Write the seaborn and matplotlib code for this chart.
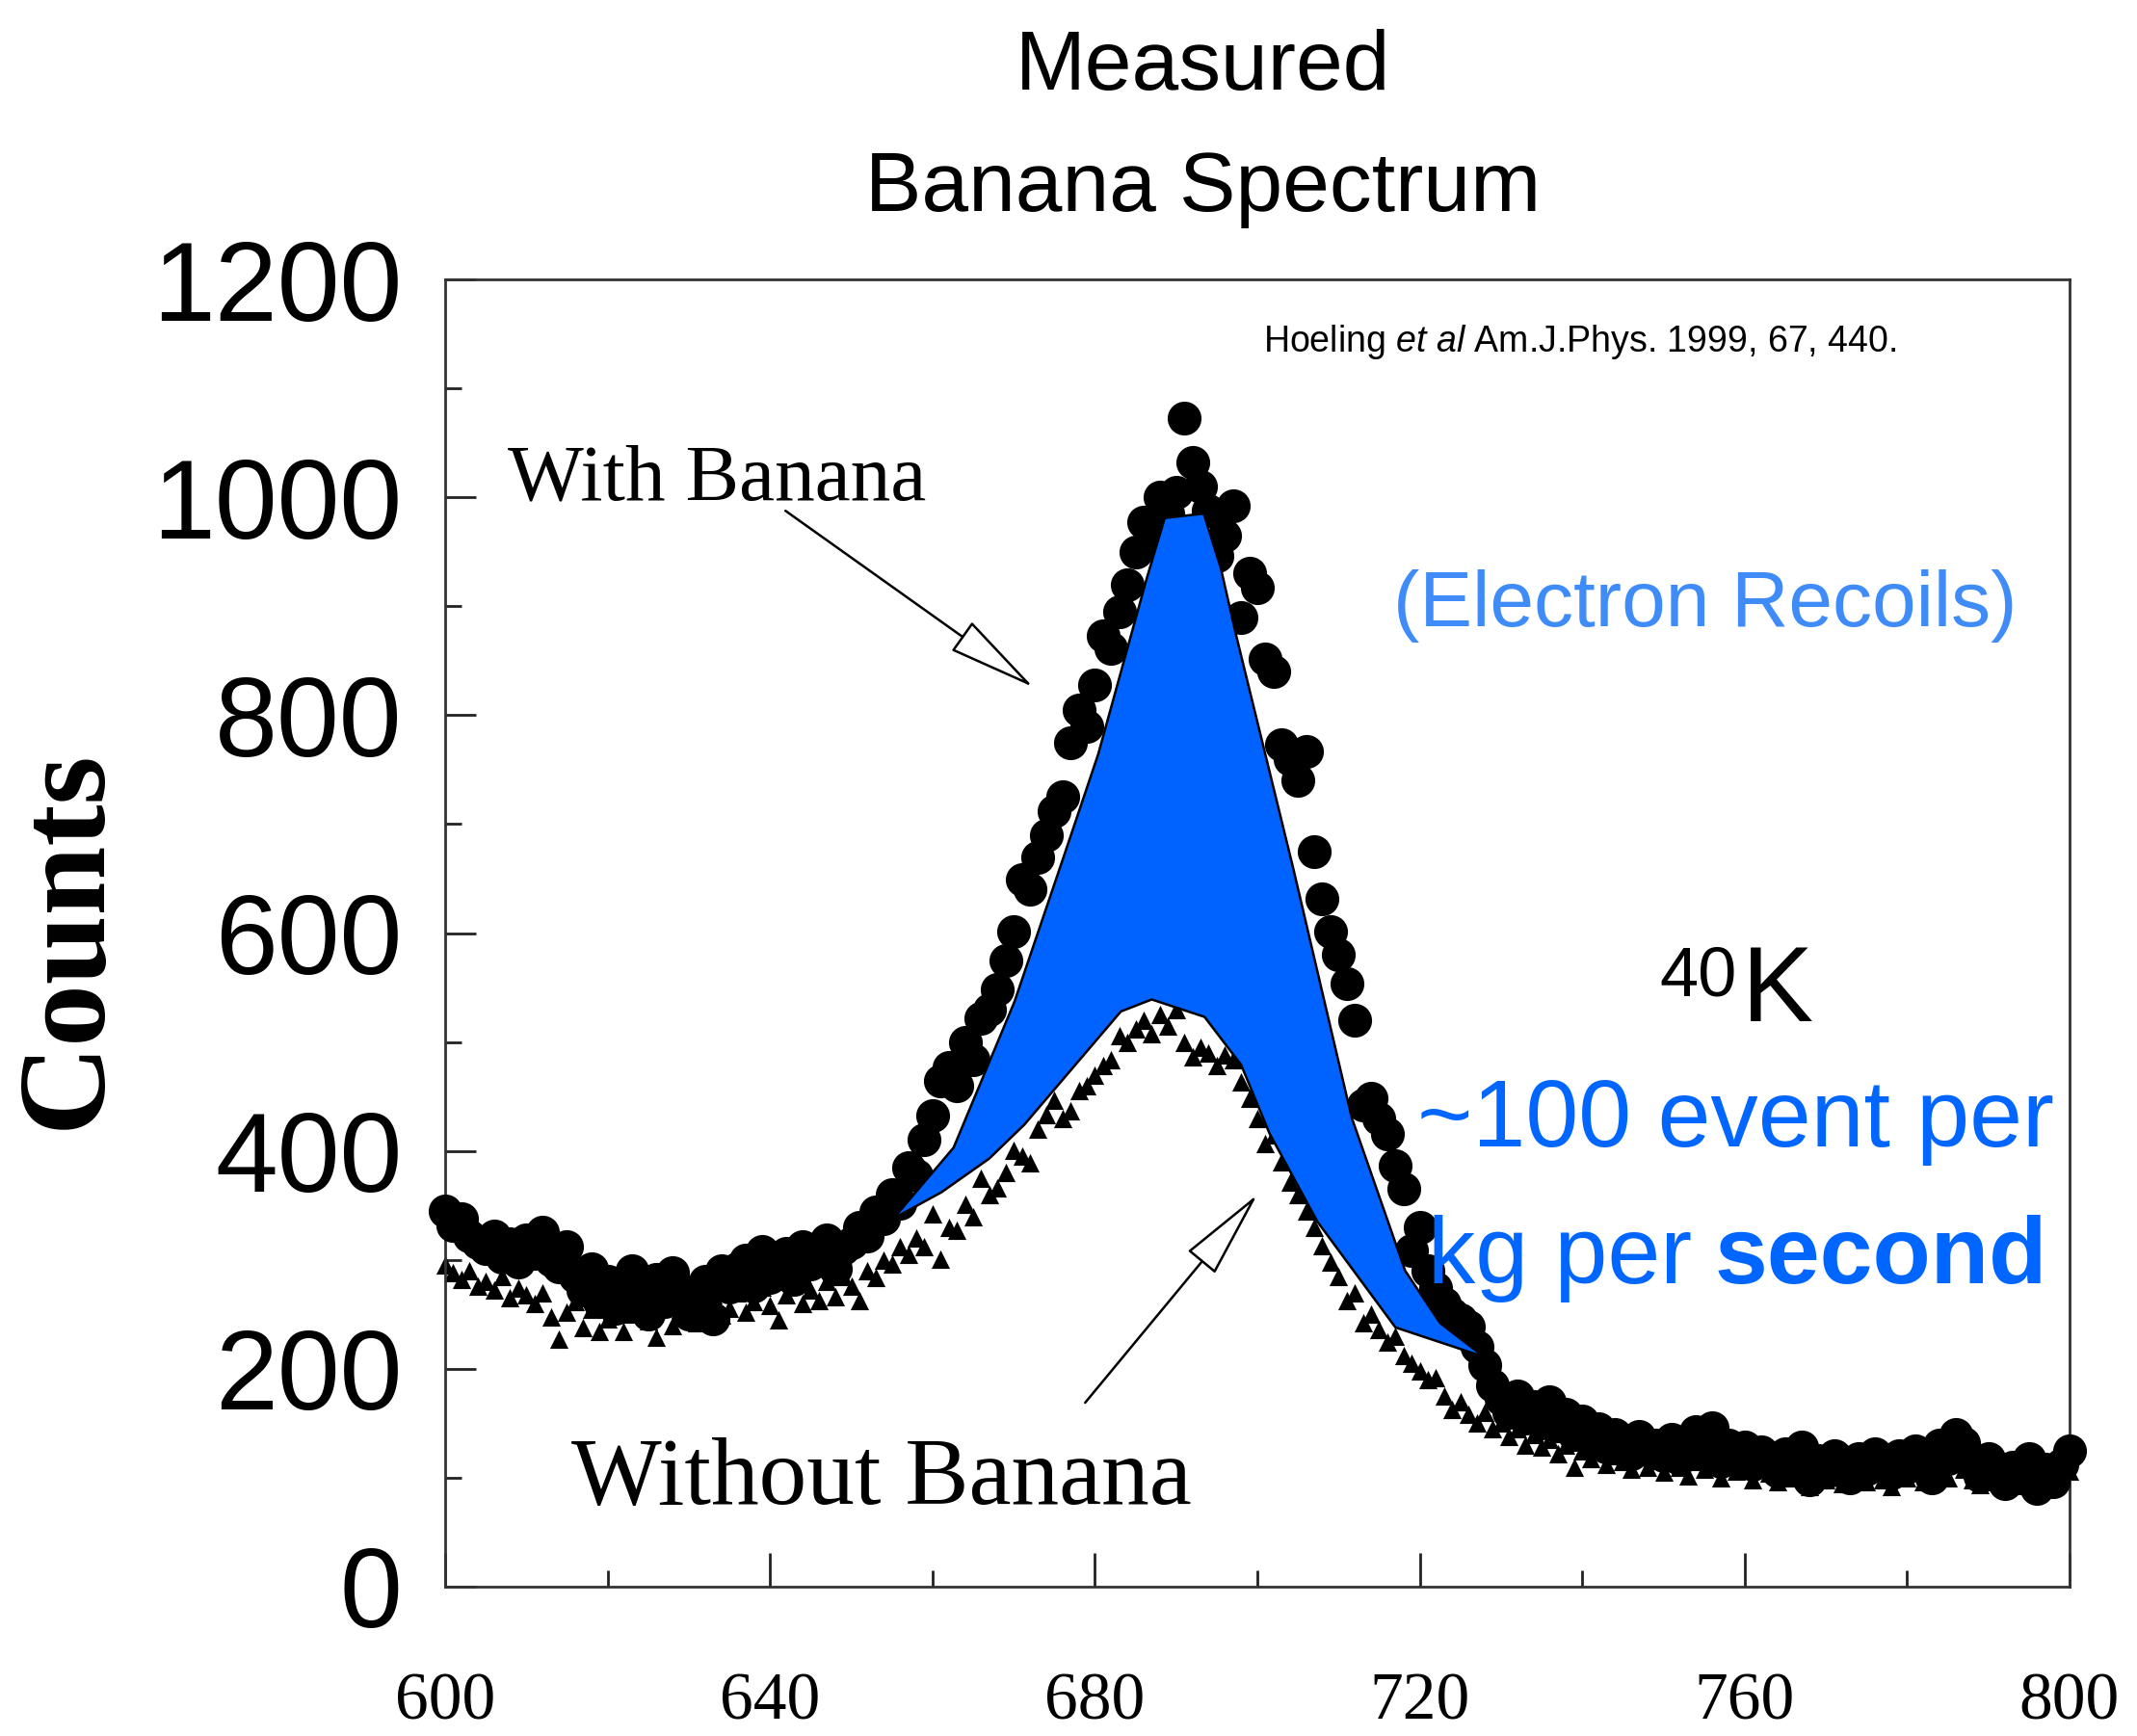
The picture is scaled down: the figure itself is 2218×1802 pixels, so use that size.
import matplotlib
matplotlib.use("Agg")
import matplotlib.pyplot as plt
import numpy as np
import pandas as pd
import seaborn as sns

# ---- data -------------------------------------------------------------
energy = list(range(600, 801))

with_banana = [
    345, 332, 338, 322, 316, 310, 322, 302, 315, 298,
    318, 306, 325, 300, 294, 312, 285, 272, 292, 262,
    280, 256, 276, 290, 266, 250, 282, 262, 288, 272,
    250, 266, 280, 246, 290, 275, 292, 300, 276, 308,
    284, 298, 306, 282, 312, 296, 300, 318, 292, 310,
    316, 330, 322, 344, 338, 360, 352, 385, 378, 410,
    432, 464, 477, 460, 500, 484, 522, 530, 548, 575,
    601, 649, 640, 669, 690, 712, 725, 775, 805, 790,
    828, 873, 861, 895, 920, 950, 977, 960, 1000, 985,
    1005, 1073, 1032, 1010, 988, 946, 965, 992, 890, 930,
    917, 852, 840, 773, 760, 740, 767, 675, 631, 601,
    580, 554, 520, 442, 448, 430, 416, 386, 365, 309,
    330, 290, 274, 260, 250, 245, 239, 220, 203, 185,
    172, 160, 175, 155, 165, 150, 170, 148, 158, 140,
    152, 135, 145, 128, 140, 132, 122, 138, 126, 130,
    120, 135, 118, 128, 142, 125, 146, 115, 130, 120,
    128, 112, 124, 118, 106, 122, 110, 128, 98, 116,
    105, 120, 110, 100, 118, 108, 122, 112, 104, 120,
    110, 125, 115, 100, 130, 118, 140, 132, 112, 102,
    118, 106, 95, 110, 100, 118, 90, 108, 96, 112,
    125,
]

without_banana = [
    295, 288, 282, 290, 276, 280, 272, 285, 265, 274,
    268, 260, 270, 248, 227, 252, 262, 238, 255, 234,
    246, 258, 234, 250, 262, 244, 229, 271, 240, 255,
    262, 242, 258, 268, 249, 256, 270, 252, 262, 275,
    258, 245, 268, 278, 260, 272, 263, 280, 266, 285,
    276, 263, 290, 284, 300, 296, 312, 305, 320, 312,
    342, 301, 330, 327, 351, 340, 375, 360, 366, 380,
    401, 395, 389, 420, 433, 447, 430, 437, 455, 460,
    470, 478, 484, 506, 500, 512, 520, 508, 525, 515,
    530, 500, 486, 495, 490, 478, 488, 484, 463, 448,
    430, 407, 415, 390, 371, 360, 345, 330, 313, 298,
    285, 263, 270, 242, 250, 236, 225, 230, 212, 205,
    198, 190, 192, 175, 163, 170, 158, 150, 160, 145,
    150, 138, 145, 130, 140, 128, 135, 122, 130, 110,
    125, 118, 128, 112, 120, 115, 108, 122, 110, 116,
    105, 118, 110, 102, 115, 108, 120, 100, 112, 106,
    114, 98, 108, 104, 96, 110, 100, 106, 92, 104,
    98, 108, 95, 102, 110, 96, 104, 98, 92, 106,
    100, 110, 96, 104, 112, 100, 118, 108, 98, 94,
    104, 96, 90, 100, 94, 106, 88, 98, 92, 100,
    106,
]

# outline of the banana excess (upper edge left->right, lower edge right->left)
excess_upper_x = [655.2, 662.6, 670.1, 675.7, 680.4, 686.4, 688.6, 693.4,
                  695.5, 697.4, 704.4, 711.6, 718.2, 722.5, 727.9]
excess_upper_y = [338, 403, 537, 660, 764, 926, 981, 985,
                  935, 873, 660, 431, 290, 242, 211]
excess_lower_x = [717.0, 707.4, 701.5, 698.0, 693.5, 687.0, 683.2,
                  671.3, 667.0, 661.1]
excess_lower_y = [238, 335, 416, 479, 523, 539, 528,
                  424, 393, 362]

x_ticks = [600, 640, 680, 720, 760, 800]
y_ticks = [0, 200, 400, 600, 800, 1000, 1200]

# ---- style ------------------------------------------------------------
sns.set_theme(style="white")
plt.rcParams["font.family"] = ["Liberation Sans", "DejaVu Sans"]
plt.rcParams["text.color"] = "black"
plt.rcParams["xtick.color"] = "black"
plt.rcParams["ytick.color"] = "black"
plt.rcParams["axes.labelcolor"] = "black"
plt.rcParams["mathtext.fontset"] = "custom"
plt.rcParams["mathtext.rm"] = "Liberation Sans"
plt.rcParams["mathtext.it"] = "Liberation Sans:italic"

W, H = 2218, 1802
fig = plt.figure(figsize=(W / 100, H / 100), dpi=100)
fig.patch.set_facecolor("white")
ax = fig.add_axes([462 / W, 1 - 1647 / H, (2148 - 462) / W, (1647 - 290) / H])
ax.set_facecolor("white")

df = pd.DataFrame({"energy": energy, "with": with_banana, "without": without_banana})

sns.scatterplot(data=df, x="energy", y="without", marker="^", s=190,
                color="black", linewidth=0, legend=False, ax=ax,
                zorder=2, clip_on=False)
sns.scatterplot(data=df, x="energy", y="with", marker="o", s=640,
                color="black", linewidth=0, legend=False, ax=ax,
                zorder=3, clip_on=False)

poly_x = excess_upper_x + excess_lower_x
poly_y = excess_upper_y + excess_lower_y
ax.fill(poly_x, poly_y, facecolor="#0062ff", edgecolor="black",
        linewidth=1.8, zorder=4)

ax.set_xlim(600, 800)
ax.set_ylim(0, 1200)
ax.set_xlabel("")
ax.set_ylabel("")

ax.set_xticks(x_ticks, labels=[str(t) for t in x_ticks],
              fontfamily="Liberation Serif", fontsize=50)
ax.set_xticks([620, 660, 700, 740, 780], minor=True)
ax.set_yticks(y_ticks, labels=[str(t) for t in y_ticks],
              fontfamily="Liberation Sans", fontsize=84)
ax.set_yticks([100, 300, 500, 700, 900, 1100], minor=True)

ax.tick_params(axis="both", which="both", direction="in", top=False,
               right=False, bottom=True, left=True, color="#222222", width=2)
ax.tick_params(axis="x", which="major", length=25, pad=99)
ax.tick_params(axis="x", which="minor", length=12)
ax.tick_params(axis="y", which="major", length=23, pad=32)
ax.tick_params(axis="y", which="minor", length=12)
for t in ax.xaxis.get_major_ticks():
    t.label1.set_verticalalignment("baseline")

for sp in ax.spines.values():
    sp.set_visible(True)
    sp.set_color("#333333")
    sp.set_linewidth(2)

# arrows pointing at the two series
arrow_kw = dict(arrowstyle="-|>,head_length=60,head_width=12",
                mutation_scale=1, fc="white", ec="black", lw=1.8,
                shrinkA=0, shrinkB=0)
ax.annotate("", xy=(672.4, 825.8), xytext=(641.9, 987.6),
            arrowprops=arrow_kw, zorder=5)
ax.annotate("", xy=(700.0, 359.9), xytext=(678.8, 168.9),
            arrowprops=arrow_kw, zorder=5)


def fpos(x, y):
    return x / W, 1 - y / H


fig.text(*fpos(527, 518), "With Banana", fontfamily="Liberation Serif",
         fontsize=60, ha="left", va="baseline")
fig.text(*fpos(593, 1561), "Without Banana", fontfamily="Liberation Serif",
         fontsize=71.5, ha="left", va="baseline")

fig.text(*fpos(72, 975), "Counts", fontfamily="Liberation Serif",
         fontweight="bold", fontsize=93, rotation=90, ha="center", va="center")

fig.text(*fpos(1249, 93), "Measured", fontsize=63, ha="center", va="baseline")
fig.text(*fpos(1249, 219), "Banana Spectrum", fontsize=63, ha="center",
         va="baseline")

fig.text(*fpos(1311, 365), r"Hoeling $\mathit{et\ al}$ Am.J.Phys. 1999, 67, 440.",
         fontsize=27, ha="left", va="baseline")

fig.text(*fpos(1446, 650), "(Electron Recoils)", fontsize=59,
         color="#3f8cf8", ha="left", va="baseline")

fig.text(*fpos(1722, 1033), "40", fontsize=52, ha="left", va="baseline")
fig.text(*fpos(1808, 1060), "K", fontsize=80, ha="left", va="baseline")

fig.text(*fpos(1471, 1190), "~100 event per", fontsize=71, color="#0066ff",
         ha="left", va="baseline")
fig.text(*fpos(1482, 1332), "kg per", fontsize=71, color="#0066ff",
         ha="left", va="baseline")
fig.text(*fpos(2125, 1332), "second", fontsize=71, color="#0066ff",
         fontweight="bold", ha="right", va="baseline")

fig.savefig("out.png", dpi=100, facecolor="white")
